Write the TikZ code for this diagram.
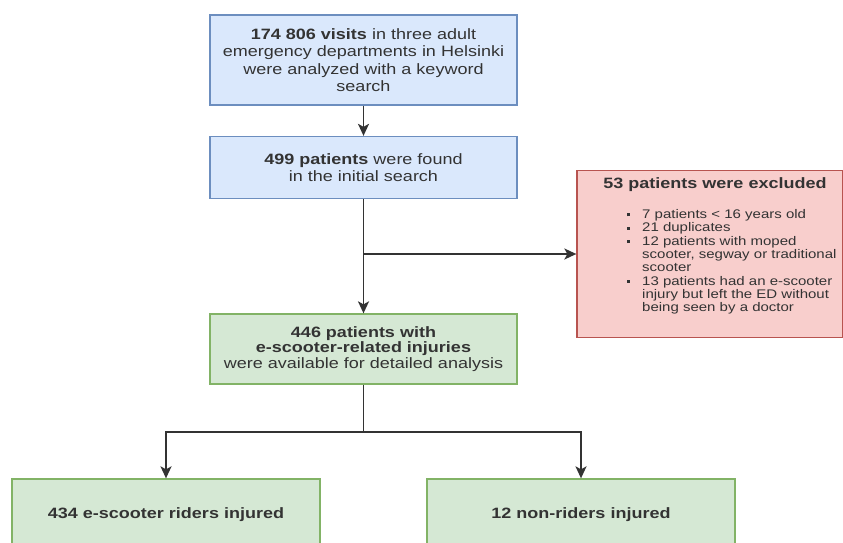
\documentclass[tikz,border=0pt]{standalone}
\usepackage{fontspec}
\setmainfont[FakeStretch=1.2]{Liberation Sans}
\usetikzlibrary{arrows.meta}
\definecolor{bfill}{HTML}{DAE8FC}
\definecolor{bline}{HTML}{6C8EBF}
\definecolor{rfill}{HTML}{F8CECC}
\definecolor{rline}{HTML}{B85450}
\definecolor{gfill}{HTML}{D5E8D4}
\definecolor{gline}{HTML}{82B366}
\definecolor{txt}{HTML}{333333}
\newcommand\mybul{\rule[0.18em]{3pt}{3pt}}
\newcommand\bi{\makebox[15pt][l]{\mybul}}
\newcommand\bs{\hspace*{15pt}}
\begin{document}
\begin{tikzpicture}[x=1pt,y=-1pt,
  box/.style={rectangle, line width=1.3pt, inner sep=0pt, align=center, text=txt,
    font=\fontsize{15}{17}\selectfont},
  bluebox/.style={box, fill=bfill, draw=bline},
  redbox/.style={box, fill=rfill, draw=rline},
  greenbox/.style={box, fill=gfill, draw=gline},
  plain/.style={inner sep=0pt, text=txt},
  link/.style={line width=1.8pt, draw=black!80},
  conn/.style={link, -{Stealth[length=12pt,width=11pt,inset=3pt]}}
]
\useasboundingbox (0,0) rectangle (843,543);
\clip (0,0) rectangle (843,543);

\node[bluebox, minimum width=307pt, minimum height=90pt,
  font=\fontsize{15}{17.3}\selectfont] (visits) at (363.5,60)
  {\textbf{174 806 visits} in three adult\\emergency departments in Helsinki\\were analyzed with a keyword\\search};

\node[bluebox, minimum width=307pt, minimum height=62pt] (found) at (363.5,167.5)
  {\textbf{499 patients} were found\\in the initial search};

\node[redbox, minimum width=266pt, minimum height=167pt] (ex) at (710,254) {};
\node[plain, font=\bfseries\fontsize{15}{17}\selectfont] (extitle) at (715,185) {53 patients were excluded};
\node[plain, anchor=west, align=left, font=\fontsize{12.5}{13.3}\selectfont] (exlist) at (627,262)
  {\bi 7 patients < 16 years old\\
   \bi 21 duplicates\\
   \bi 12 patients with moped\\
   \bs scooter, segway or traditional\\
   \bs scooter\\
   \bi 13 patients had an e-scooter\\
   \bs injury but left the ED without\\
   \bs being seen by a doctor};

\node[greenbox, minimum width=307pt, minimum height=70pt,
  font=\fontsize{15}{15.2}\selectfont] (avail) at (363.5,349)
  {\textbf{446 patients with}\\\textbf{e-scooter-related injuries}\\were available for detailed analysis};

\node[greenbox, minimum width=308pt, minimum height=72pt, font=\bfseries\fontsize{15}{17}\selectfont]
  (riders) at (166,515) {434 e-scooter riders injured};
\node[greenbox, minimum width=308pt, minimum height=72pt, font=\bfseries\fontsize{15}{17}\selectfont]
  (nonriders) at (581,515) {12 non-riders injured};

\coordinate (br) at (found.south |- ex.west);
\coordinate (split) at (363.5,432);

\draw[conn] (visits) -- (found);
\draw[conn] (found) -- (avail);
\draw[conn] (br) -- (ex.west);
\draw[link] (avail) -- (split);
\draw[conn] (split) -| (riders);
\draw[conn] (split) -| (nonriders);
\end{tikzpicture}
\end{document}
